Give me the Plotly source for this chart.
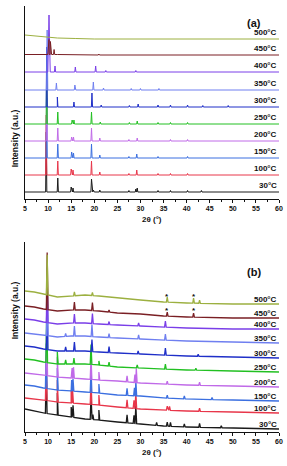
import numpy as np
import plotly.graph_objects as go

TEMPS = ["30°C", "100°C", "150°C", "200°C", "250°C", "300°C", "350°C", "400°C", "450°C", "500°C"]
COLORS = ["#1a1a1a", "#e8364a", "#3b6fe0", "#c06ae8", "#22c022",
          "#1f2fc8", "#6f7ff0", "#7a3ee8", "#7a1f24", "#9cb040"]

# ---------------- panel (a) ----------------
A_OFFSETS = [7, 24, 41, 58, 75, 92, 109, 127, 144, 160]
A_BG_X = [5, 8, 12, 16, 20, 60]
A_BG = [
    [0, 0, 0, 0, 0, 0], [0, 0, 0, 0, 0, 0], [0, 0, 0, 0, 0, 0], [0, 0, 0, 0, 0, 0],
    [0, 0, 0, 0, 0, 0], [0, 0, 0, 0, 0, 0], [0, 0, 0, 0, 0, 0], [0, 0, 0, 0, 0, 0],
    [0.5, 0.5, 0.5, 0, 0, 0], [4, 2.5, 1, 0.5, 0, 0],
]
A_PEAK_POS = [
    [9.6, 12.1, 15.0, 15.4, 19.4, 19.8, 21.2, 27.5, 29.0, 29.3, 33.8, 36.5, 40.2, 43.2],
    [9.6, 12.1, 15.0, 15.4, 19.4, 21.2, 27.5, 29.2, 33.8, 36.5, 40.2],
    [9.7, 12.1, 15.1, 15.5, 19.4, 21.2, 27.5, 29.2, 33.8, 40.2],
    [9.7, 12.1, 15.1, 15.5, 19.4, 21.2, 27.5, 29.3, 36.5, 40.2],
    [9.7, 12.1, 15.2, 15.6, 19.4, 21.3, 27.6, 29.3, 33.8, 36.5, 40.2],
    [9.7, 12.0, 15.6, 19.5, 21.5, 27.6, 29.5, 33.8, 36.5, 40.2, 43.5, 49.0],
    [9.8, 11.8, 15.8, 19.8, 22.0, 28.0, 30.0, 34.0],
    [10.2, 11.5, 15.9, 20.3, 22.5, 29.0],
    [10.2, 10.5, 11.3, 21.0],
    [],
]
A_PEAK_H = [
    [60, 14, 5, 4, 13, 2, 2, 1.5, 3, 4, 1.5, 1.5, 1.5, 1.5],
    [60, 14, 6, 5, 14, 3, 1.5, 5, 1.5, 1.5, 1.5],
    [60, 14, 6, 5, 14, 3, 1.5, 4, 1.5, 1.5],
    [60, 13, 4, 4, 13, 3, 1.5, 3, 1.5, 1.5],
    [60, 12, 4, 4, 12, 2, 1.5, 3, 1.5, 1.5, 1.5],
    [60, 10, 5, 14, 2, 1.5, 3, 2, 2, 2, 1.5, 1.5],
    [60, 7, 5, 8, 2, 1.5, 1.5, 1.5],
    [57, 6, 5, 6, 1.5, 1.5],
    [15, 13, 5, 1],
    [],
]

# ---------------- panel (b) ----------------
B_OFFSETS = [3, 19, 31, 45, 60, 74, 89, 103, 114, 128]
B_BG_X = [5, 7, 9, 12, 15, 18, 21, 25, 30, 35, 40, 50, 60]
B_BG = [
    [20, 18, 16, 14, 12, 10, 9, 7, 5, 3, 2, 1, 0],
    [15, 14, 13, 11, 10, 9, 8, 6, 4, 3, 2, 1, 0],
    [16, 15, 13, 11, 10, 9, 8, 6, 5, 3, 2, 1, 0],
    [14, 13, 12, 10, 9, 8, 7, 6, 4, 3, 2, 1, 0],
    [13, 12, 10, 8, 8, 8, 7, 5, 4, 3, 2, 1, 0],
    [12, 11, 9, 7, 7, 7, 6, 5, 4, 3, 2, 1, 0],
    [10, 9, 8, 6, 7, 7, 6, 5, 4, 3, 2, 1, 0],
    [10, 9, 7, 5, 6, 6, 5, 4, 3, 2, 1, 0, 0],
    [12, 11, 9, 7, 8, 8, 7, 5, 4, 2, 1, 0, 0],
    [13, 12, 10, 7, 8, 9, 8, 6, 4, 2, 1, 0, 0],
]
B_PEAK_POS = [
    [9.6, 12.0, 15.0, 15.4, 19.3, 19.7, 21.0, 27.1, 28.6, 29.0, 33.5, 35.8, 36.5, 39.5, 42.8, 47.5],
    [9.6, 12.0, 15.0, 15.3, 19.3, 21.0, 27.1, 28.6, 29.0, 35.8, 36.3, 42.8],
    [9.6, 12.0, 15.1, 15.4, 19.3, 21.0, 27.1, 28.7, 29.0, 35.8, 39.5, 45.5],
    [9.7, 12.0, 15.2, 15.5, 19.3, 21.0, 27.1, 28.8, 29.1, 35.8, 42.8],
    [9.7, 12.0, 13.8, 15.6, 19.3, 21.0, 23.2, 29.3, 35.4, 42.0],
    [9.8, 13.8, 15.7, 19.5, 23.2, 29.5, 35.4, 42.5],
    [9.8, 13.8, 15.7, 19.5, 23.2, 29.6, 35.4],
    [9.8, 15.7, 19.6, 23.2, 29.6, 35.4],
    [9.8, 15.7, 19.6, 23.2, 35.8, 41.5],
    [9.8, 15.7, 19.6, 35.8, 41.5, 42.8],
]
B_PEAK_H = [
    [45, 22, 10, 12, 24, 5, 10, 8, 8, 18, 3, 4, 4, 3, 4, 2],
    [45, 22, 12, 13, 24, 10, 8, 8, 16, 4, 4, 3],
    [45, 22, 11, 12, 24, 9, 7, 8, 15, 3, 3, 2],
    [45, 20, 10, 11, 22, 8, 6, 8, 14, 3, 3],
    [50, 12, 4, 6, 20, 4, 4, 3, 5, 2],
    [55, 4, 9, 12, 6, 3, 7, 2],
    [55, 3, 10, 12, 4, 4, 6],
    [55, 9, 10, 3, 3, 6],
    [57, 8, 8, 2, 4, 4],
    [40, 4, 3, 5, 5, 3],
]

STAR_POS = [35.7, 41.5]
STAR_ROWS = [8, 9]


def build_curve(bg_x, bg_y, offset, pos, hts, width):
    xs = list(bg_x)
    ys = [offset + v for v in bg_y]
    for p, h in zip(pos, hts):
        w = width * (2.0 if h > 12 and p > 10.0 and p < 11 else 1.0)
        for xx, extra in ((p - w, 0.0), (p, h), (p + w, 0.0)):
            xs.append(xx)
            ys.append(offset + float(np.interp(xx, bg_x, bg_y)) + extra)
    order = np.argsort(xs, kind="stable")
    return [xs[i] for i in order], [ys[i] for i in order]


fig = go.Figure()

for i, t in enumerate(TEMPS):
    x, y = build_curve(A_BG_X, A_BG[i], A_OFFSETS[i], A_PEAK_POS[i], A_PEAK_H[i], 0.13)
    fig.add_trace(go.Scatter(x=x, y=y, mode="lines", line=dict(color=COLORS[i], width=1),
                             xaxis="x", yaxis="y", showlegend=False, hoverinfo="skip"))
for i, t in enumerate(TEMPS):
    x, y = build_curve(B_BG_X, B_BG[i], B_OFFSETS[i], B_PEAK_POS[i], B_PEAK_H[i], 0.18)
    fig.add_trace(go.Scatter(x=x, y=y, mode="lines", line=dict(color=COLORS[i], width=1.3),
                             xaxis="x2", yaxis="y2", showlegend=False, hoverinfo="skip"))

FONT = "Liberation Sans, Arial, sans-serif"
ann = []
for i, t in enumerate(TEMPS):
    ann.append(dict(x=1.0, xref="paper", y=A_OFFSETS[i] + 7, yref="y", text=t,
                    showarrow=False, xanchor="right", yanchor="middle",
                    font=dict(size=8, family=FONT, color="#111", weight="bold")))
    ann.append(dict(x=1.0, xref="paper", y=B_OFFSETS[i] + 5, yref="y2", text=t,
                    showarrow=False, xanchor="right", yanchor="middle",
                    font=dict(size=8, family=FONT, color="#111", weight="bold")))
for r in STAR_ROWS:
    for p in STAR_POS:
        ann.append(dict(x=p, xref="x2", y=B_OFFSETS[r] + 8, yref="y2", text="*",
                        showarrow=False, xanchor="center", yanchor="middle",
                        font=dict(size=8, family=FONT, color="#111", weight="bold")))

W, H = 287, 466
ML, MR, MT, MB = 25, 4, 6, 34


def px(xp):
    return (xp - ML) / (W - ML - MR)


def py(yp):
    return (H - MB - yp) / (H - MT - MB)


ann += [
    dict(x=px(267), y=py(15), xref="paper", yref="paper", text="(a)", showarrow=False,
         font=dict(size=11, family=FONT, color="#111", weight="bold")),
    dict(x=px(267), y=py(272), xref="paper", yref="paper", text="(b)", showarrow=False,
         font=dict(size=11, family=FONT, color="#111", weight="bold")),
    dict(x=px(154), y=py(219), xref="paper", yref="paper", text="2θ (°)", showarrow=False,
         font=dict(size=8, family=FONT, color="#111", weight="bold")),
    dict(x=px(154), y=py(459), xref="paper", yref="paper", text="2θ (°)", showarrow=False,
         font=dict(size=8, family=FONT, color="#111", weight="bold")),
    dict(x=px(8), y=py(107), xref="paper", yref="paper", text="Intensity (a.u.)", showarrow=False,
         textangle=-90, font=dict(size=8.5, family=FONT, color="#111", weight="bold")),
    dict(x=px(8), y=py(341), xref="paper", yref="paper", text="Intensity (a.u.)", showarrow=False,
         textangle=-90, font=dict(size=8.5, family=FONT, color="#111", weight="bold")),
]

xcommon = dict(range=[5, 60], dtick=5, tick0=5, showline=True, linecolor="#111", linewidth=1,
               ticks="outside", ticklen=3, tickwidth=1, tickcolor="#111", showgrid=False,
               zeroline=False, tickfont=dict(size=7, family=FONT, color="#111", weight="bold"),
               minor=dict(dtick=2.5, ticks="outside", ticklen=2, tickcolor="#111", showgrid=False))
ycommon = dict(showline=True, linecolor="#111", linewidth=1, ticks="", showticklabels=False,
               showgrid=False, zeroline=False)

fig.update_layout(
    width=W, height=H,
    margin=dict(l=ML, r=MR, t=MT, b=MB),
    paper_bgcolor="white", plot_bgcolor="white",
    xaxis=dict(domain=[0, 1], anchor="y", **xcommon),
    yaxis=dict(domain=[py(199), 1.0], anchor="x", range=[0, 193], **ycommon),
    xaxis2=dict(domain=[0, 1], anchor="y2", **xcommon),
    yaxis2=dict(domain=[0, py(242)], anchor="x2", range=[0, 190], **ycommon),
    annotations=ann,
    showlegend=False,
)

fig.write_html("out.html", config={"displayModeBar": False})

# remove the browser's default page margin so the figure sits at the window origin
with open("out.html", "r", encoding="utf-8") as f:
    html = f.read()
html = html.replace("<head>", "<head><style>html,body{margin:0;padding:0;overflow:hidden;}</style>", 1)
with open("out.html", "w", encoding="utf-8") as f:
    f.write(html)
